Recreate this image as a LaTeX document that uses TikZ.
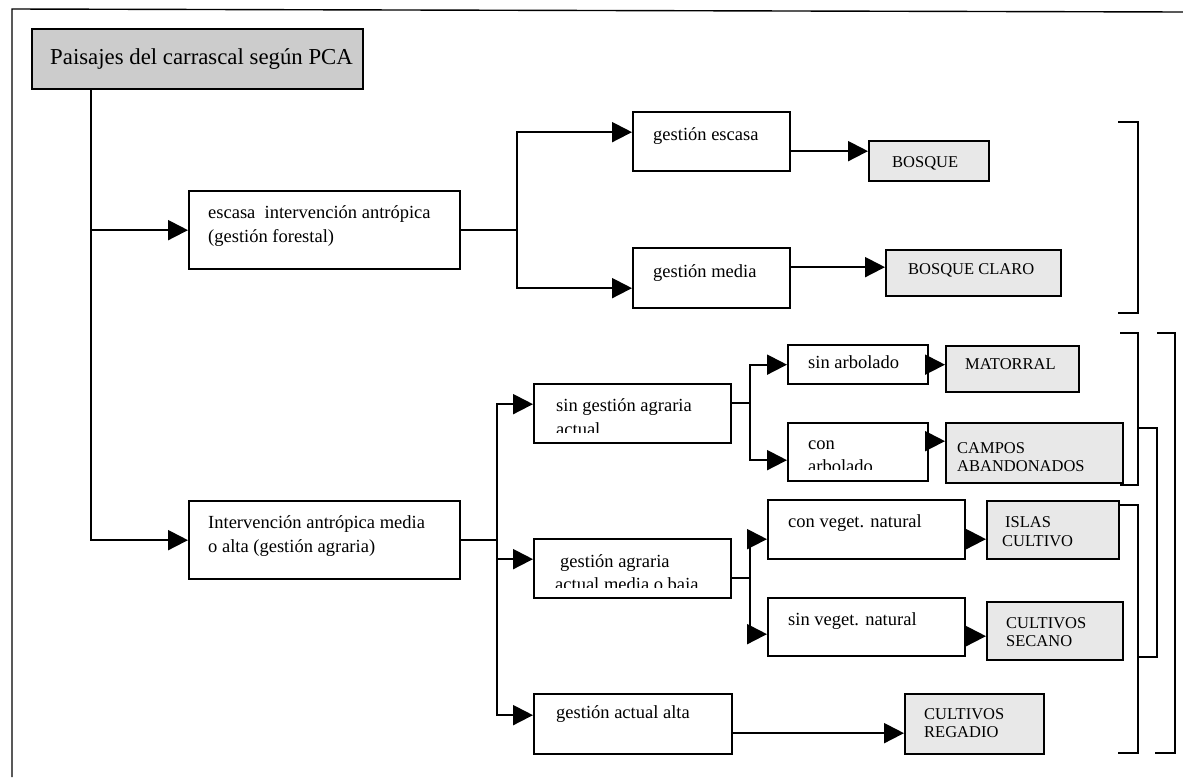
\documentclass[tikz,border=0pt]{standalone}
\usepackage{fontspec}
\setmainfont{Liberation Serif}
\usetikzlibrary{arrows.meta}
\begin{document}
\begin{tikzpicture}[x=1pt,y=-1pt,
  box/.style={draw, line width=2.3pt, inner sep=0pt, anchor=north west},
  res/.style={box, fill=gray!18},
  head/.style={box, fill=gray!40},
  conn/.style={line width=2pt},
  arr/.style={conn, -{Triangle[length=20pt,width=20pt]}},
  txt/.style={anchor=base west, inner sep=0pt, font=\fontsize{18.5}{23}\selectfont},
  unitlbl/.style={anchor=base west, inner sep=0pt, font=\fontsize{16.5}{19}\selectfont},
  ttl/.style={anchor=base west, inner sep=0pt, font=\fontsize{22.8}{27}\selectfont},
  brk/.style={line width=2pt}
]
\useasboundingbox (0,0) rectangle (1183,777);
% page frame
\draw[line width=1.4pt] (12,777) -- (12,9) -- (1183,12);

% title
\node[head, minimum width=331pt, minimum height=60pt] (title) at (31,28) {};
\node[ttl] (ttitle) at (50,64) {Paisajes del carrascal según PCA};

% first level
\node[box, minimum width=271pt, minimum height=78pt] (escasa) at (188,190) {};
\node[txt] (tescasaA) at (208,218) {escasa\ \ intervención antrópica};
\node[txt] (tescasaB) at (208,242) {(gestión forestal)};

\node[box, minimum width=271pt, minimum height=78pt] (interv) at (188,500) {};
\node[txt] (tintervA) at (208,528) {Intervención antrópica media};
\node[txt] (tintervB) at (208,552) {o alta (gestión agraria)};

% forest branch
\node[box, minimum width=157pt, minimum height=59pt] (ge) at (632,111) {};
\node[txt] (tge) at (653,140) {gestión escasa};
\node[box, minimum width=157pt, minimum height=60pt] (gm) at (632,247) {};
\node[txt] (tgm) at (653,277) {gestión media};

\node[res, minimum width=120pt, minimum height=40pt] (bosque) at (868,140) {};
\node[unitlbl] (tbosque) at (892,167) {BOSQUE};
\node[res, minimum width=175pt, minimum height=46pt] (bclaro) at (885,249) {};
\node[unitlbl] (tbclaro) at (908,274) {BOSQUE CLARO};

% agrarian branch
\node[box, minimum width=197pt, minimum height=59pt] (sg) at (533,383) {};
\node[box, minimum width=197pt, minimum height=59pt] (ga) at (533,538) {};
\node[box, minimum width=198pt, minimum height=60pt] (gaa) at (533,693) {};
\node[txt] (tgaa) at (556,718) {gestión actual alta};

\node[box, minimum width=140pt, minimum height=39pt] (sa) at (787,344) {};
\node[txt] (tsa) at (808,368) {sin arbolado};
\node[box, minimum width=140pt, minimum height=58pt] (ca) at (787,422) {};
\node[txt] (tcaA) at (808,449) {con};

\node[box, minimum width=197pt, minimum height=59pt] (cv) at (767,499) {};
\node[txt] (tcv) at (788,527) {con veget. natural};
\node[box, minimum width=197pt, minimum height=58pt] (sv) at (767,597) {};
\node[txt] (tsv) at (788,625) {sin veget. natural};

% text cut off by the lower edge of its box
\begin{scope}
  \clip (533,383) rectangle (730,432);
  \node[txt] (tsgA) at (556,411) {sin gestión agraria};
  \node[txt] (tsgB) at (556,435) {actual};
\end{scope}
\begin{scope}
  \clip (533,538) rectangle (730,587);
  \node[txt] (tgaA) at (560,567) {gestión agraria};
  \node[txt] (tgaB) at (555,590) {actual media o baja};
\end{scope}
\begin{scope}
  \clip (787,422) rectangle (927,469);
  \node[txt] (tcaB) at (808,472) {arbolado};
\end{scope}

% landscape units
\node[res, minimum width=133pt, minimum height=46pt] (matorral) at (945,345) {};
\node[unitlbl] (tmatorral) at (965,369) {MATORRAL};
\node[res, minimum width=177pt, minimum height=60pt] (campos) at (945,422) {};
\node[unitlbl] (tcamposA) at (957,453) {CAMPOS};
\node[unitlbl] (tcamposB) at (957,471) {ABANDONADOS};
\node[res, minimum width=132pt, minimum height=58pt] (islas) at (986,500) {};
\node[unitlbl] (tislasA) at (1005,527) {ISLAS};
\node[unitlbl] (tislasB) at (1002,546) {CULTIVO};
\node[res, minimum width=136pt, minimum height=58pt] (secano) at (986,601) {};
\node[unitlbl] (tsecanoA) at (1006,628) {CULTIVOS};
\node[unitlbl] (tsecanoB) at (1006,646) {SECANO};
\node[res, minimum width=139pt, minimum height=60pt] (regadio) at (904,693) {};
\node[unitlbl] (tregadioA) at (924,719) {CULTIVOS};
\node[unitlbl] (tregadioB) at (924,737) {REGADIO};

% connectors
\coordinate (t0) at ([xshift=60pt]title.south west);
\draw[arr] (t0) |- (escasa.west);
\draw[arr] (t0) |- (interv.west);

\coordinate (j1) at ([xshift=56pt]escasa.east);
\draw[conn] (escasa.east) -- (j1);
\draw[arr] (j1) |- ([yshift=9.5pt]ge.west);
\draw[arr] (j1) |- ([yshift=-10pt]gm.west);
\draw[arr] ([yshift=-9.5pt]ge.east) -- ([yshift=-9.5pt]ge.east -| bosque.west);
\draw[arr] ([yshift=11pt]gm.east) -- ([yshift=11pt]gm.east -| bclaro.west);

\coordinate (j2) at ([xshift=36pt]interv.east);
\draw[conn] (interv.east) -- (j2);
\draw[arr] (j2) |- ([yshift=9.5pt]sg.west);
\draw[arr] (j2) |- ([yshift=9.5pt]ga.west);
\draw[arr] (j2) |- ([yshift=9pt]gaa.west);

\coordinate (j3) at ([yshift=10.5pt, xshift=18pt]sg.east);
\draw[conn] ([yshift=10.5pt]sg.east) -- (j3);
\draw[arr] (j3) |- (sa.west);
\draw[arr] (j3) |- ([yshift=-8pt]ca.west);
\draw[arr] (sa.east) -- (sa.east -| matorral.west);
\draw[arr] ([yshift=11pt]ca.east) -- ([yshift=11pt]ca.east -| campos.west);

\coordinate (j4) at ([yshift=-9.5pt, xshift=18pt]ga.east);
\draw[conn] ([yshift=-9.5pt]ga.east) -- (j4);
\draw[arr] (j4) |- ([yshift=-9.5pt]cv.west);
\draw[arr] (j4) |- ([yshift=-7pt]sv.west);
\draw[arr] ([yshift=-9.5pt]cv.east) -- ([yshift=-9.5pt]cv.east -| islas.west);
\draw[arr] ([yshift=-9pt]sv.east) -- ([yshift=-9pt]sv.east -| secano.west);
\draw[arr] ([yshift=-9pt]gaa.east) -- ([yshift=-9pt]gaa.east -| regadio.west);

% grouping brackets
\draw[brk] (1118,122) -- (1138,122) -- (1138,313) -- (1118,313);
\draw[brk] (1120,333) -- (1138,333) -- (1138,485) -- (1120,485);
\draw[brk] (1120,505) -- (1138,505) -- (1138,753) -- (1118,753);
\draw[brk] (1138,428) -- (1157,428) -- (1157,657) -- (1138,657);
\draw[brk] (1157,333) -- (1175,333) -- (1175,753) -- (1155,753);
\end{tikzpicture}
\end{document}
